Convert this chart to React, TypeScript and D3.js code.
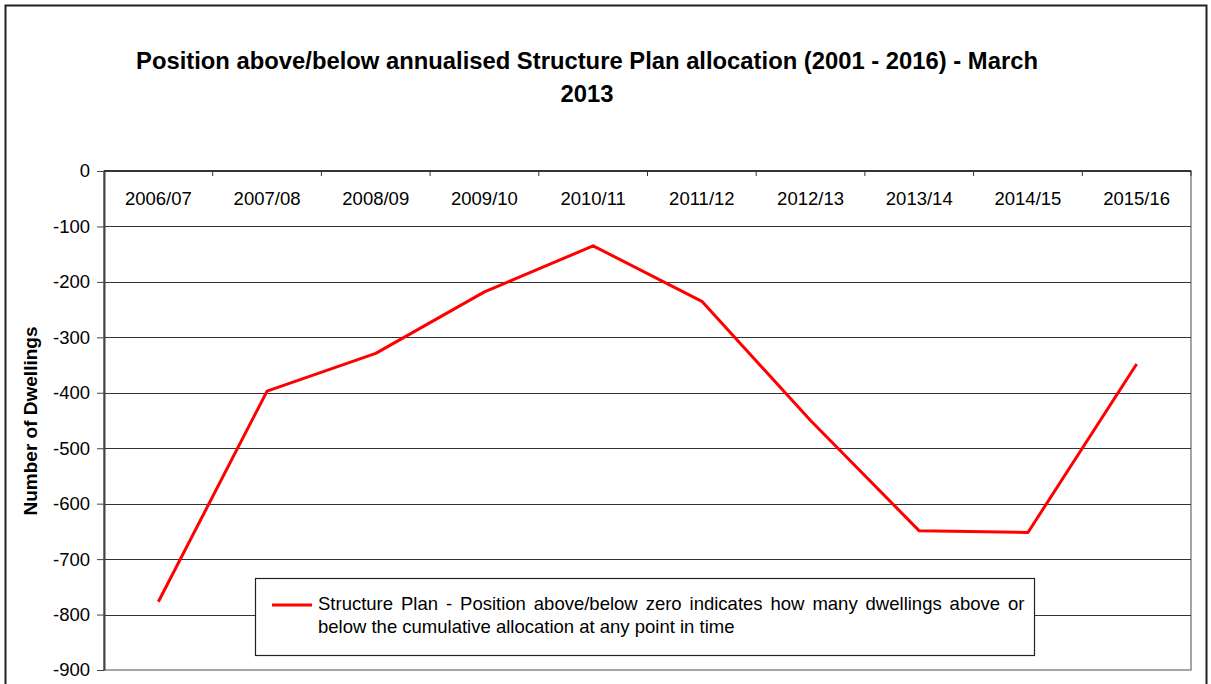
import { useEffect, useRef } from "react";
import * as d3 from "d3";

const categories = [
  "2006/07",
  "2007/08",
  "2008/09",
  "2009/10",
  "2010/11",
  "2011/12",
  "2012/13",
  "2013/14",
  "2014/15",
  "2015/16",
];
const positionValues = [-777, -397, -329, -218, -135, -235, -450, -649, -652, -348];
const yTicks = [0, -100, -200, -300, -400, -500, -600, -700, -800, -900];
const titleLines = [
  "Position above/below annualised Structure Plan allocation (2001 - 2016) - March",
  "2013",
];
const legendLines = [
  "Structure Plan - Position above/below zero indicates how many dwellings above or",
  "below the cumulative allocation at any point in time",
];

const FONT = "Arial, 'Liberation Sans', sans-serif";

function App() {
  const svgRef = useRef<SVGSVGElement>(null);

  useEffect(() => {
    const svgElement = svgRef.current;
    if (!svgElement) return;

    const W = 1211;
    const H = 684;
    const margin = { top: 171, left: 104 };
    const plotW = 1191 - margin.left;
    const plotH = 670 - margin.top;

    const svg = d3.select(svgElement).attr("width", W).attr("height", H);

    // outer chart frame
    svg
      .append("rect")
      .attr("x", 5.5)
      .attr("y", 5.5)
      .attr("width", 1201)
      .attr("height", 700)
      .attr("fill", "#fff")
      .attr("stroke", "#222")
      .attr("stroke-width", 2);

    // title
    svg
      .append("g")
      .selectAll("text")
      .data(titleLines)
      .enter()
      .append("text")
      .attr("x", 587)
      .attr("y", (_, i) => 69 + i * 33)
      .attr("text-anchor", "middle")
      .style("font-family", FONT)
      .style("font-size", "23.8px")
      .style("font-weight", "bold")
      .text((d) => d);

    const g = svg
      .append("g")
      .attr("transform", `translate(${margin.left},${margin.top})`);

    const x = d3.scaleBand().domain(categories).range([0, plotW]);
    const y = d3.scaleLinear().domain([0, -900]).range([0, plotH]);

    // plot border
    g.append("rect")
      .attr("x", 0)
      .attr("y", 0)
      .attr("width", plotW)
      .attr("height", plotH)
      .attr("fill", "#fff")
      .attr("stroke", "#888")
      .attr("stroke-width", 1.5);

    // gridlines
    g.selectAll(".grid")
      .data(yTicks.filter((t) => t !== 0 && t !== -900))
      .enter()
      .append("line")
      .attr("class", "grid")
      .attr("x1", 0)
      .attr("x2", plotW)
      .attr("y1", (d) => Math.round(y(d)) + 0.5)
      .attr("y2", (d) => Math.round(y(d)) + 0.5)
      .attr("stroke", "#333")
      .attr("stroke-width", 1.2);

    // y axis
    const yAxis = g
      .append("g")
      .attr("class", "y-axis")
      .call(
        d3
          .axisLeft(y)
          .tickValues(yTicks)
          .tickFormat((d) => String(d))
          .tickSize(7)
          .tickSizeOuter(0)
          .tickPadding(7)
      );
    yAxis.select(".domain").attr("stroke", "#444").attr("stroke-width", 2);
    yAxis.selectAll(".tick line").attr("stroke", "#444");
    yAxis
      .selectAll(".tick text")
      .style("font-family", FONT)
      .style("font-size", "18.5px")
      .attr("fill", "#000");

    // x axis along the zero line, labels inside
    const xAxis = g.append("g").attr("class", "x-axis");
    xAxis
      .append("line")
      .attr("x1", 0)
      .attr("x2", plotW)
      .attr("y1", 0)
      .attr("y2", 0)
      .attr("stroke", "#333")
      .attr("stroke-width", 2);
    xAxis
      .selectAll(".xtick")
      .data(categories)
      .enter()
      .append("line")
      .attr("class", "xtick")
      .attr("x1", (d) => (x(d) || 0) + x.bandwidth())
      .attr("x2", (d) => (x(d) || 0) + x.bandwidth())
      .attr("y1", 0)
      .attr("y2", 5)
      .attr("stroke", "#333");
    xAxis
      .selectAll(".xlabel")
      .data(categories)
      .enter()
      .append("text")
      .attr("class", "xlabel")
      .attr("x", (d) => (x(d) || 0) + x.bandwidth() / 2)
      .attr("y", 34)
      .attr("text-anchor", "middle")
      .style("font-family", FONT)
      .style("font-size", "18.5px")
      .text((d) => d);

    // y axis title
    svg
      .append("text")
      .attr("transform", "translate(37,421) rotate(-90)")
      .attr("text-anchor", "middle")
      .style("font-family", FONT)
      .style("font-size", "19px")
      .style("font-weight", "bold")
      .text("Number of Dwellings");

    // series line
    const line = d3
      .line<number>()
      .x((_, i) => (x(categories[i]) || 0) + x.bandwidth() / 2)
      .y((d) => y(d));
    g.append("path")
      .datum(positionValues)
      .attr("d", line)
      .attr("fill", "none")
      .attr("stroke", "#ff0000")
      .attr("stroke-width", 3)
      .attr("stroke-linejoin", "round");

    // legend
    const legend = svg.append("g").attr("transform", "translate(255,578)");
    legend
      .append("rect")
      .attr("x", 0.5)
      .attr("y", 0.5)
      .attr("width", 779)
      .attr("height", 77)
      .attr("fill", "#fff")
      .attr("stroke", "#222")
      .attr("stroke-width", 1.2);
    legend
      .append("line")
      .attr("x1", 17)
      .attr("x2", 57)
      .attr("y1", 27)
      .attr("y2", 27)
      .attr("stroke", "#ff0000")
      .attr("stroke-width", 3);
    legend
      .selectAll(".ltext")
      .data(legendLines)
      .enter()
      .append("text")
      .attr("class", "ltext")
      .attr("x", 63)
      .attr("y", (_, i) => 32 + i * 23)
      .style("font-family", FONT)
      .style("font-size", "18.5px")
      .style("word-spacing", (_, i) => (i === 0 ? "2.8px" : "0px"))
      .text((d) => d);

    return () => {
      d3.select(svgElement).selectAll("*").remove();
    };
  }, []);

  return (
    <svg
      ref={svgRef}
      style={{ position: "absolute", left: 0, top: 0, display: "block" }}
    ></svg>
  );
}

export default App;
